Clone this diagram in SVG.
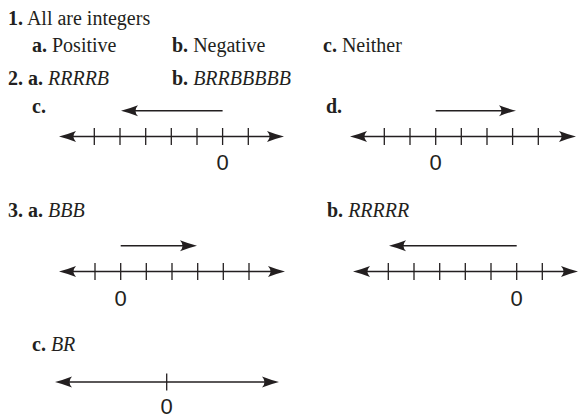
<svg xmlns="http://www.w3.org/2000/svg" width="586" height="418" viewBox="0 0 586 418">
<style>
text{font-family:"Liberation Serif","Times New Roman",serif;font-size:20px;fill:#231f20}
.b{font-weight:bold}
.i{font-style:italic}
.z{font-family:"Liberation Sans",Arial,sans-serif;font-size:22px;text-anchor:middle}
.ax{stroke:#231f20;stroke-width:1.6;fill:none;marker-start:url(#ah);marker-end:url(#ah)}
.dir{stroke:#231f20;stroke-width:1.4;fill:none;marker-end:url(#ah)}
.tk{stroke:#231f20;stroke-width:1.3}
</style>
<defs>
<marker id="ah" viewBox="0 -6 18 12" refX="5" refY="0" markerWidth="18" markerHeight="12" markerUnits="userSpaceOnUse" orient="auto-start-reverse">
<path d="M17,0 Q9,-2 0,-5.5 Q5,0 0,5.5 Q9,2 17,0Z" fill="#231f20"/>
</marker>
</defs>
<rect width="586" height="418" fill="#fff"/>

<g id="q1">
<text x="8" y="25"><tspan class="b">1.</tspan> All are integers</text>
<text x="32" y="52"><tspan class="b">a.</tspan> Positive</text>
<text x="172" y="52"><tspan class="b">b.</tspan> Negative</text>
<text x="323" y="52"><tspan class="b">c.</tspan> Neither</text>
</g>

<g id="q2">
<text x="8" y="85"><tspan class="b">2. a.</tspan> <tspan class="i">RRRRB</tspan></text>
<text x="172" y="85"><tspan class="b">b.</tspan> <tspan class="i">BRRBBBBB</tspan></text>
</g>

<g id="q2c">
<text class="b" x="32" y="113">c.</text>
<line class="dir" x1="222.6" y1="110.7" x2="133" y2="110.7"/>
<line class="ax" x1="71" y1="136.5" x2="272" y2="136.5"/>
<g class="tk">
<line x1="94.3" y1="128" x2="94.3" y2="145"/>
<line x1="120" y1="128" x2="120" y2="145"/>
<line x1="145.7" y1="128" x2="145.7" y2="145"/>
<line x1="171.3" y1="128" x2="171.3" y2="145"/>
<line x1="197" y1="128" x2="197" y2="145"/>
<line x1="222.6" y1="128" x2="222.6" y2="145"/>
<line x1="248.3" y1="128" x2="248.3" y2="145"/>
</g>
<text class="z" x="222.6" y="170">0</text>
</g>

<g id="q2d">
<text class="b" x="326" y="113">d.</text>
<line class="dir" x1="435.7" y1="110.7" x2="504" y2="110.7"/>
<line class="ax" x1="362" y1="136.5" x2="564" y2="136.5"/>
<g class="tk">
<line x1="384.3" y1="128" x2="384.3" y2="145"/>
<line x1="410" y1="128" x2="410" y2="145"/>
<line x1="435.7" y1="128" x2="435.7" y2="145"/>
<line x1="461.3" y1="128" x2="461.3" y2="145"/>
<line x1="487" y1="128" x2="487" y2="145"/>
<line x1="512.6" y1="128" x2="512.6" y2="145"/>
<line x1="538.3" y1="128" x2="538.3" y2="145"/>
</g>
<text class="z" x="435.7" y="170">0</text>
</g>

<g id="q3a">
<text x="8" y="217"><tspan class="b">3. a.</tspan> <tspan class="i">BBB</tspan></text>
<line class="dir" x1="120.7" y1="245.7" x2="185" y2="245.7"/>
<line class="ax" x1="71" y1="271.5" x2="273" y2="271.5"/>
<g class="tk">
<line x1="95" y1="263" x2="95" y2="280"/>
<line x1="120.7" y1="263" x2="120.7" y2="280"/>
<line x1="146.3" y1="263" x2="146.3" y2="280"/>
<line x1="172" y1="263" x2="172" y2="280"/>
<line x1="197.7" y1="263" x2="197.7" y2="280"/>
<line x1="223.3" y1="263" x2="223.3" y2="280"/>
<line x1="249" y1="263" x2="249" y2="280"/>
</g>
<text class="z" x="120.7" y="306">0</text>
</g>

<g id="q3b">
<text x="327" y="217"><tspan class="b">b.</tspan> <tspan class="i">RRRRR</tspan></text>
<line class="dir" x1="516.7" y1="245.7" x2="401" y2="245.7"/>
<line class="ax" x1="365" y1="271.5" x2="566" y2="271.5"/>
<g class="tk">
<line x1="388.3" y1="263" x2="388.3" y2="280"/>
<line x1="414" y1="263" x2="414" y2="280"/>
<line x1="439.7" y1="263" x2="439.7" y2="280"/>
<line x1="465.3" y1="263" x2="465.3" y2="280"/>
<line x1="491" y1="263" x2="491" y2="280"/>
<line x1="516.7" y1="263" x2="516.7" y2="280"/>
<line x1="542.3" y1="263" x2="542.3" y2="280"/>
</g>
<text class="z" x="516.7" y="306">0</text>
</g>

<g id="q3c">
<text x="32" y="351"><tspan class="b">c.</tspan> <tspan class="i">BR</tspan></text>
<line class="ax" x1="67" y1="382" x2="267" y2="382"/>
<line class="tk" x1="166.7" y1="373.5" x2="166.7" y2="390.5"/>
<text class="z" x="166.7" y="414">0</text>
</g>
</svg>
